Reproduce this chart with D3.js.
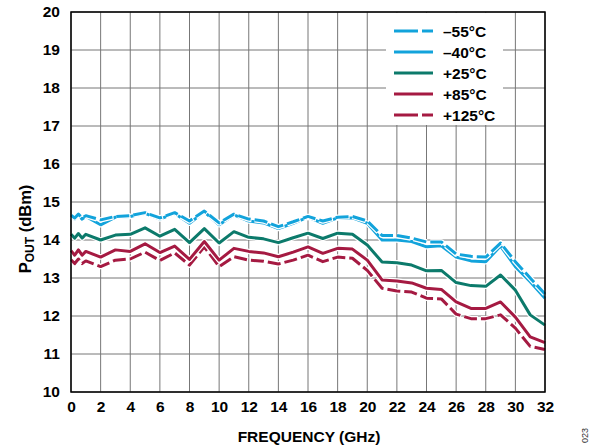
<!DOCTYPE html>
<html><head><meta charset="utf-8">
<script src="https://cdn.jsdelivr.net/npm/d3@7"></script>
<style>body{margin:0;background:#fff;}svg{display:block;font-family:"Liberation Sans",Arial,sans-serif;}</style>
</head><body>
<svg id="c" width="597" height="446"></svg>
<script>
const freq = [0,0.25,0.5,0.75,1,2,3,4,5,6,7,8,9,10,11,12,13,14,15,16,17,18,19,20,21,22,23,24,25,26,27,28,29,30,31,32];
const tM55 = [14.65,14.58,14.68,14.58,14.64,14.53,14.62,14.64,14.72,14.58,14.72,14.5,14.76,14.45,14.68,14.55,14.5,14.35,14.48,14.62,14.5,14.6,14.62,14.5,14.12,14.12,14.05,13.95,13.95,13.63,13.57,13.55,13.92,13.43,13.0,12.58];
const tM40 = [14.63,14.55,14.65,14.55,14.62,14.4,14.6,14.62,14.7,14.55,14.7,14.44,14.74,14.4,14.66,14.5,14.45,14.3,14.44,14.6,14.44,14.58,14.58,14.44,14.0,14.0,13.96,13.82,13.85,13.55,13.45,13.43,13.84,13.3,12.9,12.47];
const tP25 = [14.15,14.05,14.17,14.05,14.15,14.0,14.13,14.15,14.32,14.1,14.28,13.93,14.3,13.92,14.22,14.07,14.03,13.93,14.06,14.18,14.04,14.18,14.15,13.87,13.42,13.4,13.34,13.19,13.2,12.88,12.8,12.78,13.08,12.68,12.03,11.76];
const tP85 = [13.72,13.6,13.74,13.6,13.7,13.55,13.74,13.7,13.9,13.67,13.84,13.49,13.96,13.47,13.78,13.7,13.66,13.56,13.68,13.82,13.65,13.78,13.76,13.47,12.95,12.92,12.87,12.73,12.7,12.37,12.2,12.2,12.37,11.97,11.45,11.3];
const tP125 = [13.48,13.38,13.5,13.38,13.45,13.3,13.47,13.5,13.68,13.46,13.66,13.34,13.82,13.3,13.56,13.47,13.44,13.37,13.47,13.6,13.43,13.55,13.52,13.2,12.73,12.66,12.63,12.47,12.45,12.05,11.93,11.93,12.03,11.68,11.2,11.12];
const seriesNames = ["\u201355\u00B0C","\u201340\u00B0C","+25\u00B0C","+85\u00B0C","+125\u00B0C"];
const xTicks = d3.range(0,33,2);
const yTicks = d3.range(10,21,1);

const series = [
  {name:seriesNames[0], vals:tM55, color:"#12A3DB", dash:"13,4"},
  {name:seriesNames[1], vals:tM40, color:"#12A3DB", dash:null},
  {name:seriesNames[2], vals:tP25, color:"#0C7A6B", dash:null},
  {name:seriesNames[3], vals:tP85, color:"#A51A42", dash:null},
  {name:seriesNames[4], vals:tP125, color:"#A51A42", dash:"13,4"}
];

const svg = d3.select("#c");
const L=71, T=12, R=545, B=392;
const x = d3.scaleLinear().domain([0,32]).range([L,R]);
const y = d3.scaleLinear().domain([10,20]).range([B,T]);

// grid
const g = svg.append("g");
g.selectAll("line.v").data(xTicks).join("line")
  .attr("x1",d=>x(d)).attr("x2",d=>x(d)).attr("y1",T).attr("y2",B)
  .attr("stroke","#777").attr("stroke-width",1);
g.selectAll("line.h").data(yTicks).join("line")
  .attr("y1",d=>y(d)).attr("y2",d=>y(d)).attr("x1",L).attr("x2",R)
  .attr("stroke","#777").attr("stroke-width",1);

// legend background
svg.append("rect").attr("x",386).attr("y",T+1).attr("width",117).attr("height",112).attr("fill","#fff");

// lines (draw in reverse so -55 on top of -40)
const line = d3.line().x((d,i)=>x(freq[i])).y(d=>y(d));
const order = [4,3,2,1,0];
order.forEach(k=>{
  const s = series[k];
  svg.append("path").attr("d",line(s.vals)).attr("fill","none")
    .attr("stroke","#fff").attr("stroke-width",5.5).attr("stroke-linejoin","round")
    .attr("stroke-dasharray", s.dash ? "14,3" : null);
  svg.append("path").attr("d",line(s.vals)).attr("fill","none")
    .attr("stroke",s.color).attr("stroke-width",3).attr("stroke-linejoin","round")
    .attr("stroke-dasharray", s.dash);
});

// frame
svg.append("rect").attr("x",L).attr("y",T).attr("width",R-L).attr("height",B-T)
  .attr("fill","none").attr("stroke","#000").attr("stroke-width",1.5);

// axes labels
const yAxis = d3.axisLeft(y).tickValues(yTicks).tickSize(0).tickPadding(11);
const ya = svg.append("g").attr("transform",`translate(${L},0)`).call(yAxis);
ya.select(".domain").remove();
ya.selectAll("text").attr("font-size",15.5).attr("font-weight","bold").attr("fill","#000")
  .attr("font-family","'Liberation Sans',Arial,sans-serif");

const xAxis = d3.axisBottom(x).tickValues(xTicks).tickSize(0).tickPadding(9);
const xa = svg.append("g").attr("transform",`translate(0,${B})`).call(xAxis);
xa.select(".domain").remove();
xa.selectAll("text").attr("font-size",15.5).attr("font-weight","bold").attr("fill","#000")
  .attr("font-family","'Liberation Sans',Arial,sans-serif");

svg.append("text").attr("x",(L+R)/2 + 1).attr("y",442).attr("text-anchor","middle")
  .attr("font-size",15.5).attr("font-weight","bold").text("FREQUENCY (GHz)");

const yl = svg.append("text").attr("transform","translate(31,229) rotate(-90)")
  .attr("text-anchor","middle").attr("font-size",16.5).attr("font-weight","bold");
yl.append("tspan").text("P");
yl.append("tspan").attr("font-size",12).attr("dy",3).text("OUT");
yl.append("tspan").attr("dy",-3).text(" (dBm)");

svg.append("text").attr("transform","translate(588,443) rotate(-90)")
  .attr("font-size",9).attr("fill","#333").text("023");

// legend
const ly0 = 31, lstep = 21;
series.forEach((s,i)=>{
  const yy = ly0 + i*lstep;
  svg.append("line").attr("x1",394).attr("x2",433).attr("y1",yy).attr("y2",yy)
    .attr("stroke",s.color).attr("stroke-width",3)
    .attr("stroke-dasharray", s.dash ? "24,4" : null);
  svg.append("text").attr("x",443).attr("y",yy+5.5).attr("font-size",15.5)
    .attr("font-weight","bold").text(s.name);
});
</script>
</body></html>
